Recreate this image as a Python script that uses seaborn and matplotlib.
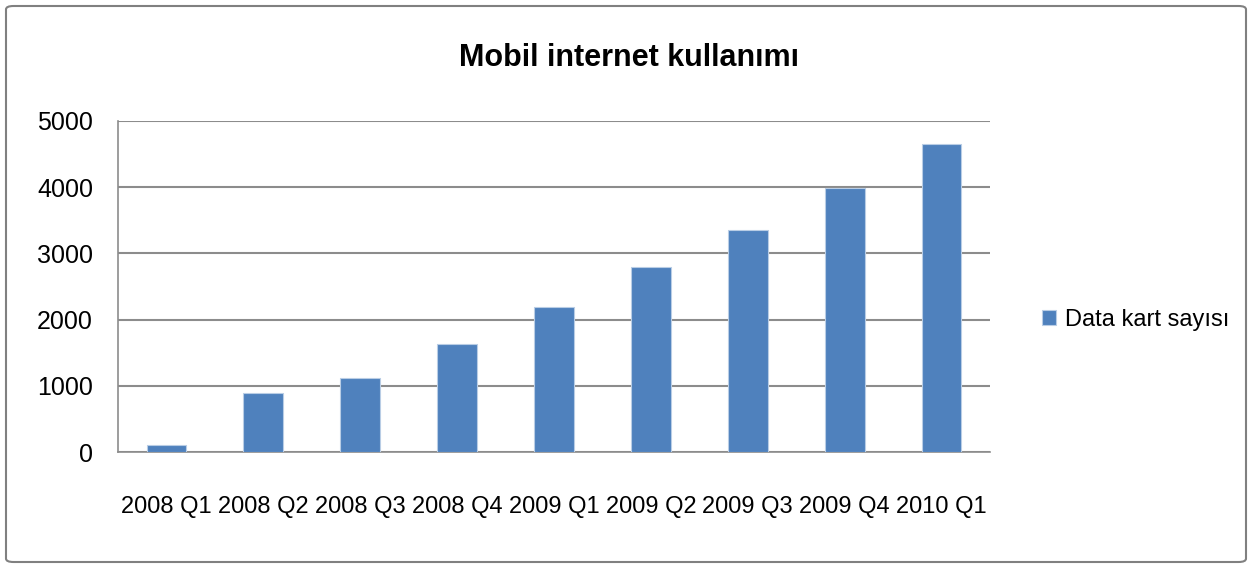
import matplotlib
matplotlib.use("Agg")
import matplotlib.pyplot as plt
import seaborn as sns
import pandas as pd
from matplotlib.patches import FancyBboxPatch

categories = ["2008 Q1", "2008 Q2", "2008 Q3", "2008 Q4", "2009 Q1",
              "2009 Q2", "2009 Q3", "2009 Q4", "2010 Q1"]
values = [110, 884, 1116, 1629, 2196, 2790, 3353, 3995, 4646]
series_name = "Data kart sayısı"
title = "Mobil internet kullanımı"
yticks = [0, 1000, 2000, 3000, 4000, 5000]

sns.set_theme(style="white")
plt.rcParams['font.family'] = ['Liberation Sans Narrow', 'Liberation Sans', 'DejaVu Sans']

df = pd.DataFrame({"Dönem": categories, "Değer": values, "Seri": series_name})

fig = plt.figure(figsize=(12.53, 5.68), dpi=100)
ax = fig.add_axes([118/1253, 1-452/568, (990-118)/1253, (452-121)/568])

sns.barplot(data=df, x="Dönem", y="Değer", hue="Seri", palette=["#4F81BD"],
            saturation=1, width=0.41, edgecolor="#B9CDE5", linewidth=0.8,
            ax=ax, zorder=3)

ax.set_ylim(0, 5000)
ax.set_xlim(-0.5, len(categories) - 0.5)
ax.set_yticks(yticks)
ax.set_yticklabels([str(t) for t in yticks], fontsize=18, color="#000000")
ax.yaxis.grid(True, color="#8C8C8C", linewidth=1.5, zorder=0)
ax.set_axisbelow(True)
ax.set_xlabel("")
ax.set_ylabel("")

# category ticks: labels at centers, tick marks at boundaries
ax.set_xticks(range(len(categories)))
ax.set_xticklabels(categories, fontsize=17, color="#000000")
ax.tick_params(axis="x", which="major", length=0, pad=32)
ax.set_xticks([i - 0.5 for i in range(len(categories) + 1)], minor=True)
ax.tick_params(axis="x", which="minor", length=9, width=1.2, color="#8C8C8C", direction="out")
ax.tick_params(axis="y", which="major", length=8, width=1.2, color="#8C8C8C", direction="out", pad=10)

for s in ["top", "right"]:
    ax.spines[s].set_visible(False)
ax.spines["left"].set_color("#8C8C8C")
ax.spines["left"].set_linewidth(1.2)
ax.spines["bottom"].set_color("#8C8C8C")
ax.spines["bottom"].set_linewidth(1.2)

fig.text(629/1253, 1-58/568, title, ha="center", va="center",
         fontsize=22, fontweight="bold", color="#000000")

leg = ax.legend(loc="center left", bbox_to_anchor=(1.035, 0.4), frameon=False,
                fontsize=17, handlelength=0.6, handleheight=0.6, handletextpad=0.4)
for t in leg.get_texts():
    t.set_color("#000000")

border = FancyBboxPatch((6/1253, 6/568), 1240/1253, 556/568,
                        boxstyle="round,pad=0,rounding_size=0.006",
                        transform=fig.transFigure, fill=False,
                        edgecolor="#808080", linewidth=1.5)
fig.patches.append(border)

fig.savefig("out.png", dpi=100)
